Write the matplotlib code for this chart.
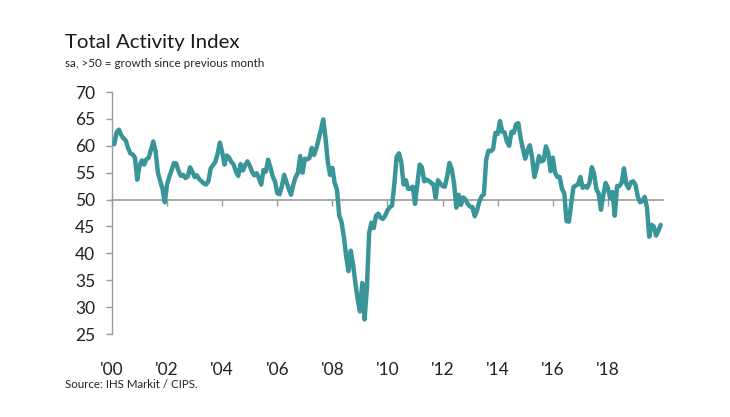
import numpy as np
import matplotlib
matplotlib.use("Agg")
import matplotlib.pyplot as plt

# UK construction total activity index, monthly, Jan 2000 - Nov 2019
v2000 = [60.3, 62.5, 63.0, 62.0, 61.4, 61.0, 59.6, 58.6, 58.4, 57.8, 53.7, 56.3]
v2001 = [57.3, 56.5, 57.5, 57.8, 59.3, 60.8, 59.0, 55.0, 53.5, 52.0, 49.5, 52.8]
v2002 = [54.3, 55.5, 56.8, 56.7, 55.3, 54.4, 54.6, 54.0, 54.3, 56.0, 55.2, 54.2]
v2003 = [54.5, 53.8, 53.4, 53.0, 52.8, 53.4, 55.8, 56.4, 57.0, 58.5, 60.6, 58.8]
v2004 = [56.5, 58.2, 57.8, 57.0, 56.5, 55.2, 54.4, 56.6, 55.4, 56.4, 57.1, 56.3]
v2005 = [55.2, 54.5, 54.9, 54.0, 52.8, 55.5, 55.2, 57.4, 56.0, 54.3, 53.4, 51.2]
v2006 = [51.0, 52.5, 54.6, 53.3, 52.0, 50.9, 52.8, 54.2, 55.0, 58.1, 55.0, 57.6]
v2007 = [57.5, 57.7, 59.6, 58.3, 59.5, 61.2, 63.0, 64.9, 61.5, 57.0, 54.6, 55.9]
v2008 = [53.1, 51.8, 47.0, 45.8, 43.0, 39.5, 36.7, 40.5, 38.0, 34.5, 31.5, 29.2]
v2009 = [34.5, 27.7, 33.3, 43.8, 45.7, 44.7, 47.0, 47.4, 46.6, 46.4, 47.0, 48.0]
v2010 = [48.6, 48.9, 53.0, 58.0, 58.6, 57.0, 52.8, 53.6, 52.0, 52.0, 52.4, 49.2]
v2011 = [52.8, 56.5, 56.0, 53.4, 53.7, 53.5, 53.1, 52.8, 50.3, 53.6, 53.0, 52.5]
v2012 = [52.4, 54.3, 56.8, 55.6, 53.0, 48.5, 50.9, 49.0, 50.4, 50.0, 49.1, 48.7]
v2013 = [48.6, 46.9, 48.0, 49.6, 50.6, 51.0, 57.5, 59.1, 59.0, 59.4, 62.4, 62.2]
v2014 = [64.6, 62.6, 62.5, 60.8, 60.0, 62.6, 62.4, 64.0, 64.2, 61.4, 59.4, 57.6]
v2015 = [59.1, 60.1, 57.8, 54.2, 55.9, 58.1, 57.1, 57.3, 59.9, 58.8, 55.3, 57.8]
v2016 = [55.0, 54.2, 54.2, 52.0, 51.2, 46.0, 45.9, 49.2, 52.3, 52.6, 52.8, 54.2]
v2017 = [52.2, 52.5, 52.2, 53.1, 56.0, 54.8, 51.9, 51.1, 48.1, 50.8, 53.1, 52.2]
v2018 = [50.2, 51.4, 47.0, 52.5, 52.5, 53.1, 55.8, 52.9, 52.1, 53.2, 53.4, 52.8]
v2019 = [50.6, 49.5, 49.7, 50.5, 48.6, 43.1, 45.3, 45.0, 43.3, 44.2, 45.3]

values = (v2000 + v2001 + v2002 + v2003 + v2004 + v2005 + v2006 + v2007 + v2008
          + v2009 + v2010 + v2011 + v2012 + v2013 + v2014 + v2015 + v2016
          + v2017 + v2018 + v2019)

tick_years = [2000, 2002, 2004, 2006, 2008, 2010, 2012, 2014, 2016, 2018]
tick_labels = ["'00", "'02", "'04", "'06", "'08", "'10", "'12", "'14", "'16", "'18"]
y_ticks = [25, 30, 35, 40, 45, 50, 55, 60, 65, 70]

# monthly points plotted at month end
x = 2000 + (np.arange(len(values)) + 1) / 12.0

plt.rcParams['font.family'] = ['Lato', 'DejaVu Sans']
line_col = '#3a9598'
axis_col = '#9a9a9a'

fig = plt.figure(figsize=(7.3, 4.17), dpi=100)
ax = fig.add_axes([0.1534, 0.199, 0.7548, 0.5803])

ax.plot(x, values, color=line_col, lw=3.2, solid_joinstyle='round',
        solid_capstyle='round', zorder=3)

ax.set_xlim(2000, 2020)
ax.set_ylim(25, 70)

for s in ['top', 'right']:
    ax.spines[s].set_visible(False)
ax.spines['left'].set_color(axis_col)
ax.spines['left'].set_linewidth(1.0)
ax.spines['bottom'].set_position(('data', 50))
ax.spines['bottom'].set_color(axis_col)
ax.spines['bottom'].set_linewidth(1.2)
ax.spines['bottom'].set_zorder(2)

ax.set_yticks(y_ticks)
ax.tick_params(axis='y', length=4, width=1, color=axis_col, pad=8,
               labelsize=12.5, labelcolor='#222222')
ax.set_xticks(tick_years)
ax.tick_params(axis='x', length=4, width=1, color=axis_col, labelbottom=False)

# year labels along the bottom of the plot area
sec = ax.secondary_xaxis(0)
sec.set_xticks(tick_years)
sec.set_xticklabels(tick_labels)
sec.tick_params(length=0, pad=20, labelsize=12.5, labelcolor='#222222')
sec.spines['bottom'].set_visible(False)

fig.text(0.089, 0.898, 'Total Activity Index', fontsize=14.7, color='#1a1a1a',
         ha='left', va='center')
fig.text(0.089, 0.848, 'sa, >50 = growth since previous month', fontsize=8.4,
         color='#222222', ha='left', va='center')
fig.text(0.089, 0.077, 'Source: IHS Markit / CIPS.', fontsize=8.3,
         color='#222222', ha='left', va='center')

fig.savefig('out.png', dpi=100)
